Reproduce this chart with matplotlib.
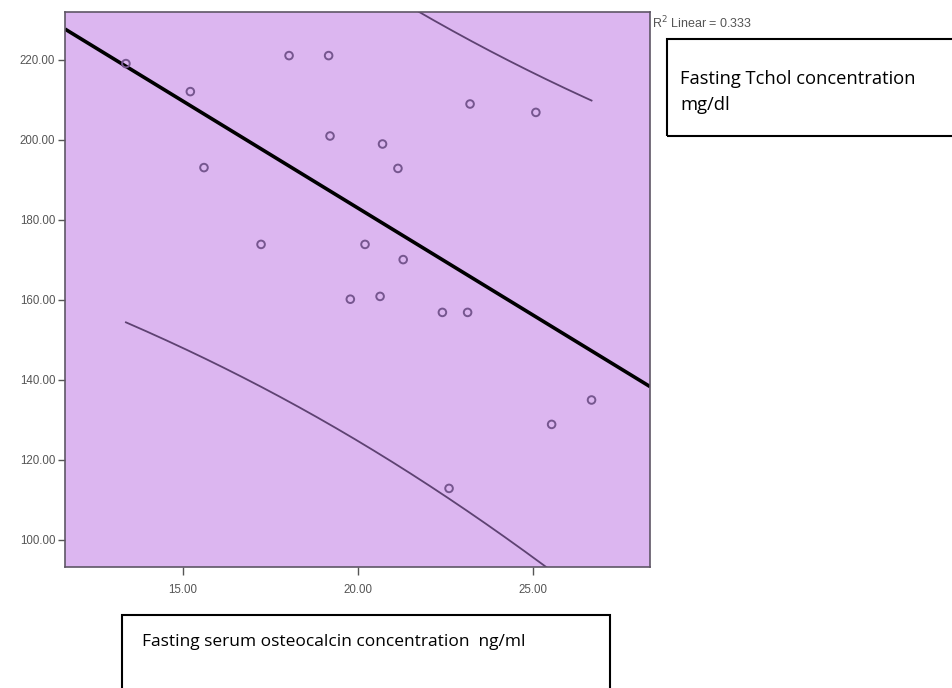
import numpy as np
import matplotlib
matplotlib.use("Agg")
import matplotlib.pyplot as plt
from matplotlib.patches import Rectangle
from matplotlib.ticker import FormatStrFormatter

# Data
osteocalcin = [13.38, 15.22, 15.61, 18.04, 19.17, 19.21, 17.24, 23.21, 25.09, 20.71,
               21.15, 20.21, 21.30, 19.79, 20.64, 22.42, 23.14, 26.68, 25.54, 22.61]
tchol = [219.1, 212.1, 193.1, 221.1, 221.1, 201.0, 173.9, 209.0, 206.9, 199.0,
         192.9, 173.9, 170.1, 160.2, 160.9, 156.9, 156.9, 135.0, 128.9, 112.9]
x_ticks = [15, 20, 25]
y_ticks = [100, 120, 140, 160, 180, 200, 220]
r2_label = "R$^2$ Linear = 0.333"
y_title = "Fasting Tchol concentration\nmg/dl"
x_title = "Fasting serum osteocalcin concentration  ng/ml"

x = np.array(osteocalcin)
y = np.array(tchol)
n = len(x)
slope, intercept = np.polyfit(x, y, 1)
resid = y - (slope * x + intercept)
s = np.sqrt(np.sum(resid ** 2) / (n - 2))
sxx = np.sum((x - x.mean()) ** 2)
t_val = 2.101  # t(0.975, df=18)

W, H = 953, 688
fig = plt.figure(figsize=(W / 100, H / 100), dpi=100)
ax = fig.add_axes([65 / W, 1 - 567 / H, (650 - 65) / W, (567 - 12) / H])
ax.set_facecolor("#dcb6f0")
ax.set_xlim(11.64, 28.35)
ax.set_ylim(93.25, 232)

# prediction interval curves over the data range
xx = np.linspace(x.min(), x.max(), 300)
yy = slope * xx + intercept
half = t_val * s * np.sqrt(1 + 1 / n + (xx - x.mean()) ** 2 / sxx)
ax.plot(xx, yy + half, color="#5e4272", lw=1.3)
ax.plot(xx, yy - half, color="#5e4272", lw=1.3)

# regression line across full axis
xl = np.array(ax.get_xlim())
ax.plot(xl, slope * xl + intercept, color="black", lw=2.6, solid_capstyle="butt")

ax.scatter(x, y, s=30, facecolors="none", edgecolors="#76568f", linewidths=1.4, zorder=3)

for sp in ax.spines.values():
    sp.set_color("#5f5666")
    sp.set_linewidth(1.2)

ax.set_xticks(x_ticks)
ax.set_yticks(y_ticks)
ax.xaxis.set_major_formatter(FormatStrFormatter("%.2f"))
ax.yaxis.set_major_formatter(FormatStrFormatter("%.2f"))
ax.tick_params(direction="out", length=5, width=1, color="#555555",
               labelsize=8.3, labelcolor="#555555", pad=2)
ax.tick_params(axis="x", length=6, pad=6)
for lab in ax.get_xticklabels() + ax.get_yticklabels():
    lab.set_fontfamily("Liberation Sans")

fig.text(652 / W, 1 - 23 / H, r2_label, fontsize=9, color="#555555",
         family="Liberation Sans", va="center", ha="left")

# boxes
fig.add_artist(Rectangle((667 / W, 1 - 136 / H), (970 - 667) / W, (136 - 39) / H,
                         transform=fig.transFigure, fill=False, ec="black", lw=1.5))
fig.add_artist(Rectangle((122 / W, -20 / H), (610 - 122) / W, (20 + 688 - 615) / H,
                         transform=fig.transFigure, fill=False, ec="black", lw=1.5))

fig.text(680 / W, 1 - 92 / H, y_title, fontsize=13.2, family="Open Sans",
         va="center", ha="left", linespacing=1.55, color="black")
fig.text(142 / W, 1 - 642 / H, x_title, fontsize=12.5, family="Open Sans",
         va="center", ha="left", color="black")

fig.savefig("out.png", dpi=100)
